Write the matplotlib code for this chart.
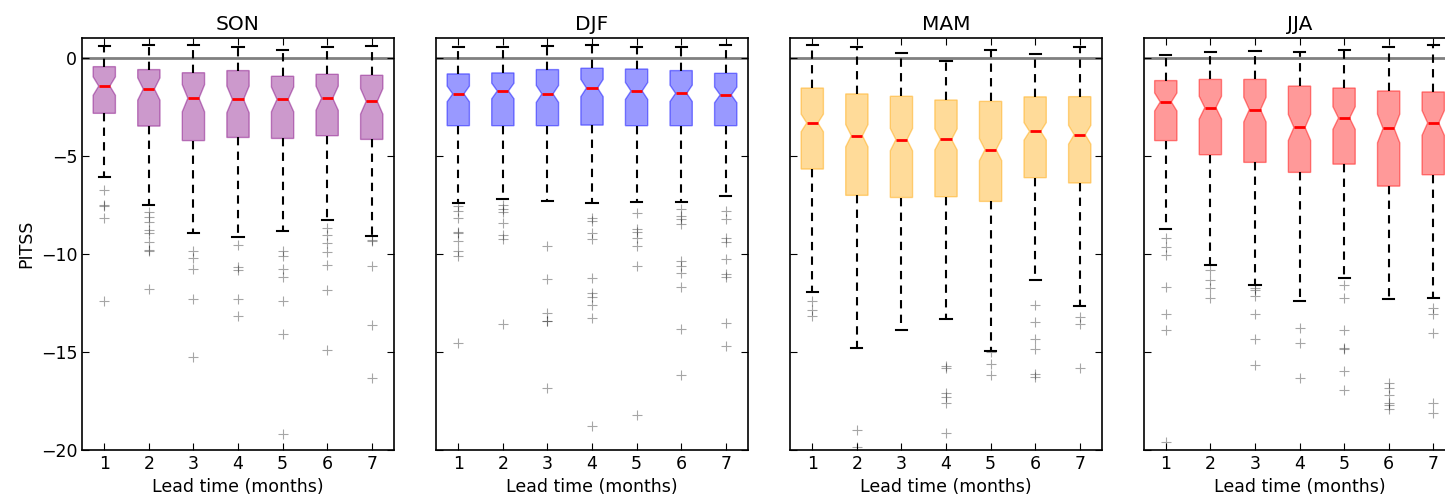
import matplotlib
matplotlib.use('Agg')
import matplotlib.pyplot as plt
from matplotlib.colors import to_rgba

seasons = ['SON', 'DJF', 'MAM', 'JJA']
colors = ['purple', 'blue', 'orange', 'red']
leads = [1, 2, 3, 4, 5, 6, 7]

# SON
son_med = [-1.45, -1.60, -2.07, -2.13, -2.13, -2.07, -2.23]
son_q1 = [-2.84, -3.49, -4.23, -4.07, -4.12, -3.98, -4.17]
son_q3 = [-0.46, -0.61, -0.77, -0.66, -0.95, -0.85, -0.90]
son_lo = [-6.10, -7.50, -8.96, -9.13, -8.86, -8.28, -9.07]
son_hi = [0.60, 0.66, 0.63, 0.53, 0.39, 0.53, 0.60]
son_cilo = [-1.92, -2.17, -2.76, -2.81, -2.76, -2.69, -2.88]
son_cihi = [-0.98, -1.03, -1.38, -1.45, -1.50, -1.45, -1.58]
son_fliers = [
    [-6.75, -7.50, -7.55, -8.18, -12.38],
    [-7.89, -8.11, -8.40, -8.79, -8.96, -9.39, -9.81, -9.85, -11.8],
    [-9.85, -10.19, -10.75, -12.28, -15.26],
    [-9.54, -10.66, -10.8, -12.28, -13.18],
    [-9.85, -10.1, -10.75, -11.17, -12.43, -14.1, -19.2],
    [-8.66, -9.03, -9.46, -9.93, -10.55, -11.85, -14.88],
    [-9.3, -9.37, -10.6, -13.64, -16.33],
]

# DJF
djf_med = [-1.85, -1.70, -1.85, -1.55, -1.70, -1.82, -1.90]
djf_q1 = [-3.47, -3.47, -3.47, -3.44, -3.47, -3.47, -3.47]
djf_q3 = [-0.83, -0.78, -0.61, -0.54, -0.58, -0.66, -0.80]
djf_lo = [-7.43, -7.21, -7.33, -7.43, -7.38, -7.38, -7.04]
djf_hi = [0.56, 0.53, 0.61, 0.63, 0.56, 0.53, 0.66]
djf_cilo = [-2.25, -2.10, -2.28, -1.99, -2.13, -2.24, -2.30]
djf_cihi = [-1.45, -1.30, -1.42, -1.11, -1.27, -1.40, -1.50]
djf_fliers = [
    [-7.55, -7.8, -8.15, -8.91, -8.96, -9.37, -9.85, -10.1, -14.54],
    [-7.5, -7.72, -7.89, -8.44, -9.05, -9.25, -13.59],
    [-9.61, -11.29, -13.0, -13.4, -13.45, -16.82],
    [-8.15, -8.32, -8.96, -9.25, -11.24, -12.02, -12.19, -12.6, -13.28, -18.79],
    [-7.92, -8.74, -8.91, -9.17, -9.59, -10.63, -18.21],
    [-7.72, -8.06, -8.23, -8.49, -10.36, -10.61, -11.0, -11.68, -13.84, -16.17],
    [-7.8, -8.23, -9.17, -9.42, -10.27, -11.03, -11.16, -13.55, -14.71],
]

# MAM
mam_med = [-3.33, -3.98, -4.18, -4.17, -4.69, -3.76, -3.93]
mam_q1 = [-5.68, -7.02, -7.13, -7.09, -7.33, -6.12, -6.39]
mam_q3 = [-1.55, -1.85, -1.97, -2.16, -2.23, -2.00, -1.99]
mam_lo = [-11.94, -14.80, -13.89, -13.33, -14.95, -11.33, -12.65]
mam_hi = [0.63, 0.53, 0.22, -0.15, 0.41, 0.19, 0.53]
mam_cilo = [-3.78, -4.55, -4.75, -4.71, -5.25, -4.21, -4.41]
mam_cihi = [-2.88, -3.41, -3.61, -3.63, -4.13, -3.31, -3.45]
mam_fliers = [
    [-12.4, -12.86, -13.16],
    [-18.96, -19.85],
    [],
    [-15.7, -15.8, -17.1, -17.3, -17.6, -19.13],
    [-15.03, -15.6, -16.17],
    [-12.6, -13.49, -14.32, -14.85, -16.14, -16.26],
    [-13.21, -13.59, -15.8],
]

# JJA
jja_med = [-2.26, -2.55, -2.65, -3.56, -3.08, -3.61, -3.33]
jja_q1 = [-4.23, -4.95, -5.34, -5.85, -5.43, -6.55, -5.97]
jja_q3 = [-1.17, -1.11, -1.11, -1.45, -1.55, -1.70, -1.75]
jja_lo = [-8.76, -10.58, -11.58, -12.40, -11.22, -12.28, -12.23]
jja_hi = [0.14, 0.31, 0.36, 0.31, 0.39, 0.53, 0.63]
jja_cilo = [-2.72, -3.13, -3.28, -4.22, -3.66, -4.34, -3.96]
jja_cihi = [-1.80, -1.97, -2.02, -2.90, -2.50, -2.88, -2.70]
jja_fliers = [
    [-9.2, -9.63, -10.07, -11.68, -13.08, -13.86, -19.58],
    [-10.83, -11.34, -11.75, -12.26],
    [-11.75, -11.85, -12.14, -13.08, -14.32, -15.68],
    [-13.76, -14.56, -16.33],
    [-11.58, -12.23, -13.89, -14.78, -14.86, -15.97, -16.95],
    [-16.57, -16.82, -17.21, -17.62, -17.72, -17.89],
    [-12.77, -13.08, -14.06, -17.58, -18.13],
]

data = {
    'SON': (son_med, son_q1, son_q3, son_lo, son_hi, son_cilo, son_cihi, son_fliers),
    'DJF': (djf_med, djf_q1, djf_q3, djf_lo, djf_hi, djf_cilo, djf_cihi, djf_fliers),
    'MAM': (mam_med, mam_q1, mam_q3, mam_lo, mam_hi, mam_cilo, mam_cihi, mam_fliers),
    'JJA': (jja_med, jja_q1, jja_q3, jja_lo, jja_hi, jja_cilo, jja_cihi, jja_fliers),
}

W, H = 1445, 500
fig = plt.figure(figsize=(W / 100, H / 100), dpi=100)
lefts = [82, 436, 790, 1143.5]

for i, season in enumerate(seasons):
    ax = fig.add_axes([lefts[i] / W, 0.1, 312 / W, 0.824])
    med, q1, q3, lo, hi, cilo, cihi, fl = data[season]
    stats = []
    for j in range(len(leads)):
        stats.append(dict(med=med[j], q1=q1[j], q3=q3[j], whislo=lo[j], whishi=hi[j],
                          cilo=cilo[j], cihi=cihi[j], fliers=fl[j]))
    c = colors[i]
    ax.axhline(0, color='gray', lw=2, zorder=1)
    ax.bxp(stats, positions=leads, widths=0.5, shownotches=True, patch_artist=True,
           boxprops=dict(facecolor=to_rgba(c, 0.4), edgecolor=to_rgba(c, 0.45), linewidth=1),
           medianprops=dict(color='red', linewidth=2),
           whiskerprops=dict(color='black', linewidth=1.5, linestyle=(0, (4, 3))),
           capprops=dict(color='black', linewidth=1.5),
           flierprops=dict(marker='+', markersize=7, markeredgewidth=0.8,
                           markeredgecolor=(0, 0, 0, 0.35), linestyle='none'))
    ax.set_xlim(0.5, 7.5)
    ax.set_ylim(-20, 1)
    ax.set_yticks([0, -5, -10, -15, -20])
    ax.set_xticks(leads)
    ax.set_xticklabels([str(l) for l in leads])
    ax.tick_params(direction='in', top=True, right=True, length=5, labelsize=12.5)
    if i > 0:
        ax.set_yticklabels([])
    else:
        ax.set_ylabel('PITSS', fontsize=12.5)
    ax.set_xlabel('Lead time (months)', fontsize=12.5)
    ax.set_title(season, fontsize=14.5)
    for s in ax.spines.values():
        s.set_linewidth(1.2)

fig.savefig('out.png', dpi=100)
